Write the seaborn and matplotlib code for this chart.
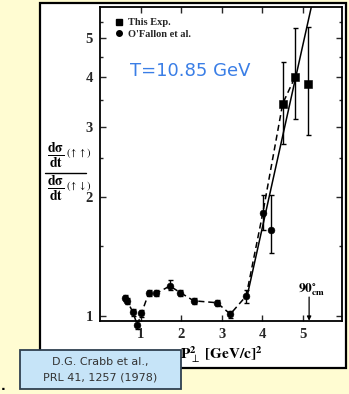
import numpy as np
import pandas as pd
import matplotlib
matplotlib.use("Agg")
import matplotlib.pyplot as plt
import seaborn as sns
from matplotlib.patches import Rectangle
from matplotlib.lines import Line2D
from matplotlib.ticker import FixedLocator, NullFormatter, FixedFormatter

# ---- data ----
ofallon_p2 = [0.61, 0.67, 0.81, 0.92, 1.02, 1.20, 1.39, 1.72, 1.98, 2.31, 2.88, 3.21, 3.60, 4.01, 4.21]
ofallon_ratio = [1.110, 1.094, 1.023, 0.951, 1.017, 1.143, 1.143, 1.192, 1.147, 1.094, 1.082, 1.013, 1.125, 1.82, 1.65]
ofallon_err_lo = [0.02, 0.02, 0.02, 0.02, 0.02, 0.02, 0.02, 0.03, 0.02, 0.02, 0.02, 0.02, 0.045, 0.17, 0.21]
ofallon_err_hi = [0.02, 0.02, 0.02, 0.02, 0.02, 0.02, 0.02, 0.04, 0.02, 0.02, 0.02, 0.02, 0.04, 0.20, 0.37]

exp_p2 = [4.50, 4.80, 5.12]
exp_ratio = [3.43, 3.99, 3.84]
exp_err_lo = [0.72, 0.86, 0.98]
exp_err_hi = [0.94, 1.31, 1.51]

# dashed curve through data (O'Fallon points up to 4.0, then first two of this exp.)
dashed_p2 = ofallon_p2[:14] + exp_p2[:2]
dashed_ratio = ofallon_ratio[:14] + exp_ratio[:2]

# solid curve
fit_p2 = [3.62, 5.25]
fit_ratio = [1.12, 6.3]

x_ticks = [1, 2, 3, 4, 5]
y_ticks = [1, 2, 3, 4, 5]
y_minor = [1.5, 2.5, 3.5, 4.5, 5.5]
y_tick_labels = ["1", "2", "3", "4", "5"]

YELLOW = "#fffcd2"
BLUE_TXT = "#3a7ee6"

sns.set_style("ticks")
plt.rcParams["font.family"] = ["DejaVu Sans"]
plt.rcParams["mathtext.fontset"] = "stix"

fig = plt.figure(figsize=(3.49, 3.94), dpi=100, facecolor=YELLOW)

W, H = 349.0, 394.0
def fx(px): return px / W
def fy(py): return 1 - py / H

# white panel of the scanned figure (behind the axes)
fig.patches.append(Rectangle((fx(40), fy(368)), fx(346) - fx(40), fy(3) - fy(368),
                             transform=fig.transFigure, facecolor="white",
                             edgecolor="black", lw=1.6, zorder=-5))

ax = fig.add_axes([fx(100), fy(320.7), fx(342) - fx(100), fy(7) - fy(320.7)])
ax.set_zorder(1)
ax.set_facecolor("white")

df_of = pd.DataFrame({"p2": ofallon_p2, "r": ofallon_ratio})
df_ex = pd.DataFrame({"p2": exp_p2, "r": exp_ratio})
df_dash = pd.DataFrame({"p2": dashed_p2, "r": dashed_ratio})
df_fit = pd.DataFrame({"p2": fit_p2, "r": fit_ratio})

sns.lineplot(data=df_dash, x="p2", y="r", sort=False, ax=ax, color="black",
             lw=1.1, linestyle=(0, (4, 2.5)))
sns.lineplot(data=df_fit, x="p2", y="r", sort=False, ax=ax, color="black", lw=1.1)

ax.errorbar(ofallon_p2, ofallon_ratio, yerr=[ofallon_err_lo, ofallon_err_hi],
            fmt="none", ecolor="black", elinewidth=1.0, capsize=1.8, capthick=1.0, clip_on=False)
ax.errorbar(exp_p2, exp_ratio, yerr=[exp_err_lo, exp_err_hi],
            fmt="none", ecolor="black", elinewidth=1.0, capsize=1.8, capthick=1.0)

sns.scatterplot(data=df_of, x="p2", y="r", ax=ax, marker="o", s=24, color="black",
                edgecolor="black", linewidth=0.4, clip_on=False, zorder=5)
sns.scatterplot(data=df_ex, x="p2", y="r", ax=ax, marker="s", s=30, color="black",
                edgecolor="black", linewidth=0.4, zorder=5)

ax.set_yscale("log")
ax.set_xlim(0, 5.96)
ax.set_ylim(0.975, 6.0)
ax.xaxis.set_major_locator(FixedLocator(x_ticks))
ax.set_xticklabels([str(t) for t in x_ticks])
ax.yaxis.set_major_locator(FixedLocator(y_ticks))
ax.yaxis.set_major_formatter(FixedFormatter(y_tick_labels))
ax.yaxis.set_minor_locator(FixedLocator(y_minor))
ax.yaxis.set_minor_formatter(NullFormatter())
ax.xaxis.set_minor_locator(FixedLocator([]))
ax.set_xlabel("")
ax.set_ylabel("")

ax.tick_params(which="both", direction="in", top=True, right=True, width=1.0)
ax.tick_params(which="major", length=4)
ax.tick_params(which="minor", length=2.5)
ax.tick_params(axis="both", which="major", labelsize=10.5, pad=5)
for lab in ax.get_xticklabels() + ax.get_yticklabels():
    lab.set_fontfamily("Liberation Serif")
    lab.set_fontweight("bold")
for s in ax.spines.values():
    s.set_linewidth(1.3)
    s.set_color("black")

# legend
handles = [Line2D([], [], marker="s", color="black", ls="", ms=4.5),
           Line2D([], [], marker="o", color="black", ls="", ms=4)]
leg = ax.legend(handles, ["This Exp.", "O'Fallon et al."], loc="upper left",
                bbox_to_anchor=(0.035, 0.985), frameon=False, handlelength=0.8,
                handletextpad=0.5, labelspacing=0.25, borderaxespad=0.2,
                prop={"family": "Liberation Serif", "size": 7.5, "weight": "bold"})

ax.text(0.124, 0.796, "T=10.85 GeV", transform=ax.transAxes, color=BLUE_TXT,
        fontsize=13, ha="left", va="center", family="DejaVu Sans")

# 90 deg cm marker
ax.annotate("", xy=(5.15, 0.975), xytext=(5.15, 1.118),
            arrowprops=dict(arrowstyle="-|>", color="black", lw=0.9,
                            mutation_scale=6, shrinkA=0, shrinkB=0))
ax.text(5.22, 1.165, r"$\mathbf{90^{\circ}_{cm}}$", ha="center", va="center",
        fontsize=9.5, color="black")

# y label (fraction)
fig.text(fx(56), fy(156), r"$\mathbf{\frac{d\sigma}{dt}}$",
         ha="center", va="center", fontsize=14, color="black")
fig.text(fx(66), fy(153), r"$(\uparrow\uparrow)$",
         ha="left", va="center", fontsize=7.5, color="black")
fig.text(fx(56), fy(189), r"$\mathbf{\frac{d\sigma}{dt}}$",
         ha="center", va="center", fontsize=14, color="black")
fig.text(fx(66), fy(186), r"$(\uparrow\downarrow)$",
         ha="left", va="center", fontsize=7.5, color="black")
fig.lines.append(Line2D([fx(45), fx(86)], [fy(172.5), fy(172.5)],
                        transform=fig.transFigure, color="black", lw=1.0))

# x label
fig.text(fx(221), fy(355), r"$\mathbf{P}_{\perp}^{\mathbf{2}}\ \mathbf{[GeV/c]^{2}}$",
         ha="center", va="center", fontsize=11, color="black")

# reference box
fig.patches.append(Rectangle((fx(20), fy(389)), fx(181) - fx(20), fy(350) - fy(389),
                             transform=fig.transFigure, facecolor="#c6e4f8",
                             edgecolor="#2f4050", lw=1.3, zorder=3))
fig.text(fx(100), fy(362), "D.G. Crabb et al.,", ha="center", va="center",
         fontsize=8, color="#333333", zorder=4)
fig.text(fx(100), fy(377), "PRL 41, 1257 (1978)", ha="center", va="center",
         fontsize=8, color="#333333", zorder=4)
fig.text(fx(1), fy(386), ".", ha="left", va="center", fontsize=9,
         fontweight="bold", color="black")

fig.savefig("out.png", dpi=100, facecolor=YELLOW)
